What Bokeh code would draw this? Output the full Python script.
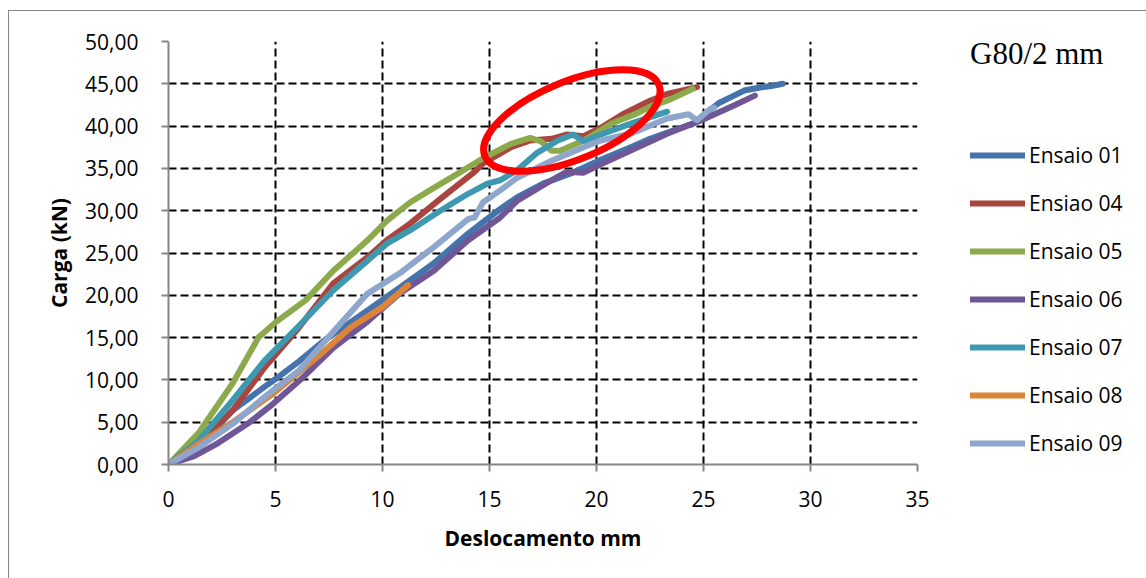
from bokeh.plotting import figure
from bokeh.models import Range1d, FixedTicker, Legend, LegendItem
from bokeh.embed import file_html
from bokeh.resources import INLINE

# ---- data ----
e01_x = [0, 1.4, 3.0, 4.5, 5.0, 6.1, 7.3, 7.7, 9.3, 10.8, 12.4, 14.0, 15.5, 16.3, 17.5, 18.8, 20.0, 21.6, 22.5, 24.5, 25.7, 26.9, 27.7, 28.1, 28.7]
e01_y = [0, 2.0, 6.4, 9.2, 10.1, 12.2, 14.7, 15.4, 18.2, 20.9, 23.8, 27.3, 30.2, 31.6, 33.2, 34.4, 35.8, 37.5, 38.5, 40.3, 42.7, 44.2, 44.6, 44.7, 45.0]

e04_x = [0, 1.5, 3.0, 4.5, 6.1, 7.7, 9.3, 10.2, 11.3, 12.7, 14.3, 14.7, 16.0, 16.9, 17.9, 18.6, 19.4, 20.2, 21.3, 22.5, 23.3, 24.7]
e04_y = [0, 2.8, 6.4, 11.5, 16.2, 21.4, 24.5, 26.5, 28.5, 31.4, 34.6, 35.6, 37.5, 38.3, 38.5, 39.0, 38.8, 39.8, 41.5, 43.0, 43.8, 44.6]

e05_x = [0, 1.4, 3.0, 4.2, 5.0, 6.4, 7.7, 9.3, 10.2, 11.3, 12.4, 13.6, 14.7, 16.0, 16.9, 17.4, 17.9, 18.3, 19.4, 20.7, 21.9, 22.5, 23.3, 24.5]
e05_y = [0, 3.7, 9.6, 15.0, 16.8, 19.4, 22.9, 26.5, 28.8, 31.0, 32.7, 34.5, 36.2, 37.9, 38.6, 38.2, 37.1, 37.1, 38.3, 40.3, 41.5, 42.3, 43.0, 44.4]

e06_x = [0, 1.2, 2.3, 3.8, 4.9, 6.2, 7.7, 9.3, 10.8, 12.4, 14.0, 15.5, 16.3, 17.9, 18.6, 19.4, 20.3, 21.6, 23.3, 24.9, 26.4, 27.4]
e06_y = [0, 1.0, 2.5, 5.0, 7.2, 10.1, 13.8, 16.9, 20.2, 22.9, 26.5, 29.2, 31.2, 33.6, 34.6, 34.5, 35.6, 37.1, 39.1, 40.7, 42.4, 43.6]

e07_x = [0, 1.4, 3.0, 4.5, 6.1, 7.7, 9.3, 10.2, 11.3, 12.7, 14.0, 14.9, 15.5, 16.3, 17.2, 18.2, 18.9, 19.4, 20.3, 21.6, 23.3]
e07_y = [0, 2.8, 7.6, 12.3, 16.4, 20.6, 24.1, 26.1, 27.7, 30.0, 32.0, 33.2, 33.6, 34.8, 36.8, 38.3, 39.0, 38.2, 39.1, 40.3, 41.7]

e08_x = [0, 1.5, 3.0, 4.9, 7.0, 8.5, 10.0, 11.2]
e08_y = [0, 2.6, 5.0, 8.4, 12.8, 16.2, 18.6, 21.2]

e09_x = [0, 1.4, 3.0, 4.5, 5.0, 6.1, 7.7, 9.3, 10.8, 12.4, 14.0, 14.3, 14.7, 15.5, 16.3, 17.9, 19.4, 20.2, 21.6, 23.3, 24.3, 24.7, 25.3, 25.5]
e09_y = [0, 2.0, 4.8, 8.0, 9.0, 11.1, 15.7, 20.2, 22.6, 25.7, 29.0, 29.2, 31.0, 32.4, 33.9, 35.9, 37.5, 38.3, 39.1, 40.9, 41.4, 40.7, 42.0, 42.2]

series_names = ["Ensaio 01", "Ensiao 04", "Ensaio 05", "Ensaio 06", "Ensaio 07", "Ensaio 08", "Ensaio 09"]
series_x = [e01_x, e04_x, e05_x, e06_x, e07_x, e08_x, e09_x]
series_y = [e01_y, e04_y, e05_y, e06_y, e07_y, e08_y, e09_y]
series_colors = ["#4573AB", "#A9443F", "#8CAA4C", "#6E5697", "#3E99B0", "#DE8439", "#8EA6CC"]

x_ticks = [0, 5, 10, 15, 20, 25, 30, 35]
y_ticks = [0, 5, 10, 15, 20, 25, 30, 35, 40, 45, 50]
y_tick_labels = ["0,00", "5,00", "10,00", "15,00", "20,00", "25,00", "30,00", "35,00", "40,00", "45,00", "50,00"]

title_text = "G80/2 mm"
x_label = "Deslocamento mm"
y_label = "Carga (kN)"

# highlighted region (red ellipse annotation)
mark_x = [18.85]
mark_y = [40.66]

FONT = "Open Sans"

p = figure(frame_width=749, frame_height=423, output_backend="svg", toolbar_location=None,
           x_range=Range1d(0, 35), y_range=Range1d(0, 50),
           min_border_left=159, min_border_top=30, min_border_bottom=114, min_border_right=229)
p.styles = {"margin-left": "8px", "margin-top": "10px",
            "border-left": "1px solid #868686", "border-top": "1px solid #868686"}
p.outline_line_color = None
p.background_fill_color = "white"
p.border_fill_color = "white"

# grid
p.xgrid.ticker = FixedTicker(ticks=x_ticks[1:])
p.ygrid.ticker = FixedTicker(ticks=y_ticks[1:])
for g in (p.xgrid, p.ygrid):
    g.grid_line_color = "black"
    g.grid_line_width = 2
    g.grid_line_dash = "8 4"

# axes
p.xaxis.ticker = FixedTicker(ticks=x_ticks)
p.yaxis.ticker = FixedTicker(ticks=y_ticks)
p.yaxis.major_label_overrides = {t: s for t, s in zip(y_ticks, y_tick_labels)}
p.xaxis.major_label_overrides = {t: str(t) for t in x_ticks}
for ax in (p.xaxis, p.yaxis):
    ax.axis_line_color = "#868686"
    ax.axis_line_width = 2
    ax.major_tick_line_color = "#868686"
    ax.major_tick_line_width = 2
    ax.major_tick_out = 7
    ax.major_tick_in = 0
    ax.minor_tick_line_color = None
    ax.major_label_text_font = FONT
    ax.major_label_text_font_size = "21px"
    ax.major_label_text_color = "black"
    ax.axis_label_text_font = FONT
    ax.axis_label_text_font_size = "21px"
    ax.axis_label_text_font_style = "bold"
    ax.axis_label_text_color = "black"
p.xaxis.axis_label = x_label
p.yaxis.axis_label = y_label
p.xaxis.major_label_standoff = 19
p.yaxis.major_label_standoff = 23
p.xaxis.axis_label_standoff = 14
p.yaxis.axis_label_standoff = 9

renderers = []
for xs, ys, c in zip(series_x, series_y, series_colors):
    r = p.line(xs, ys, line_color=c, line_width=6, line_cap="round", line_join="round")
    renderers.append(r)

p.ellipse(x=mark_x, y=mark_y, width=188, height=78, width_units="screen", height_units="screen",
          angle=0.39, fill_color=None, line_color="#FF0000", line_width=7)

legend = Legend(items=[LegendItem(label=n, renderers=[r]) for n, r in zip(series_names, renderers)],
                location=(53, 7), orientation="vertical",
                padding=0, margin=0, spacing=20,
                glyph_width=55, glyph_height=24, label_height=24, label_standoff=4,
                label_text_font=FONT, label_text_font_size="21px", label_text_color="black",
                title=title_text, title_text_font="Liberation Serif", title_text_font_size="31px",
                title_text_font_style="normal", title_text_color="black", title_standoff=69,
                border_line_color=None, background_fill_alpha=0)
p.add_layout(legend, "right")

open("out.html", "w").write(file_html(p, INLINE))
